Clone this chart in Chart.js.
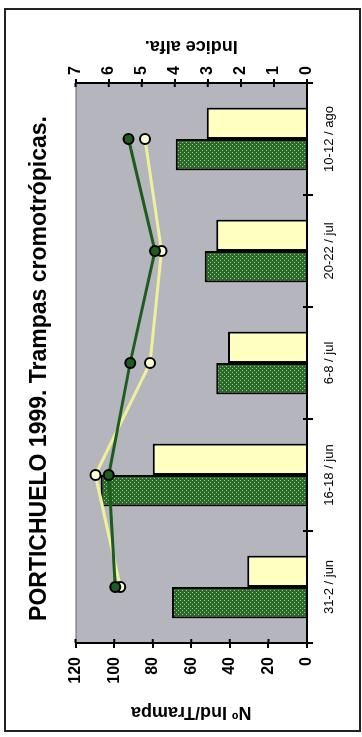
<!DOCTYPE html>
<html lang="es">
<head>
  <meta charset="UTF-8">
  <meta name="viewport" content="width=device-width, initial-scale=1.0">
  <title>Portichuelo 1999</title>
  <style>
    html, body { margin: 0; padding: 0; background: #fff; overflow: hidden; }
    /* el grafico se dibuja horizontal y se gira 90 grados a la izquierda */
    #wrap {
      position: absolute; left: 0; top: 0;
      width: 737px; height: 362px;
      transform-origin: 0 0;
      transform: translate(0, 737px) rotate(-90deg);
    }
  </style>
</head>
<body>
  <div id="wrap"><canvas id="grafico" width="737" height="362"></canvas></div>
  <script src="https://cdn.jsdelivr.net/npm/chart.js"></script>
  <script>
    // Datos
    const categorias = ["31-2 / jun", "16-18 / jun", "6-8 / jul", "20-22 / jul", "10-12 / ago"];
    const indVerde = [70, 107, 47, 53, 68];
    const indAmarilla = [31, 80, 41, 47, 52];
    const alfaVerde = [5.8, 6.0, 5.35, 4.6, 5.4];
    const alfaAmarilla = [5.65, 6.4, 4.75, 4.4, 4.9];
    const maxInd = 120, pasoInd = 20;
    const maxAlfa = 7, pasoAlfa = 1;

    const fuente = '"Liberation Sans", Arial, sans-serif';
    Chart.defaults.font.family = fuente;
    Chart.defaults.color = "#000";

    // trama de puntos para las barras verdes
    function trama() {
      const c = document.createElement("canvas");
      c.width = 4; c.height = 4;
      const g = c.getContext("2d");
      g.fillStyle = "#2c6a2c";
      g.fillRect(0, 0, 4, 4);
      g.fillStyle = "#8fca78";
      g.fillRect(0, 0, 1, 1);
      g.fillRect(2, 2, 1, 1);
      return g.createPattern(c, "repeat");
    }

    const marco = {
      id: "marco",
      beforeDraw(chart) {
        const { ctx, chartArea: a } = chart;
        ctx.save();
        ctx.fillStyle = "#fff";
        ctx.fillRect(0, 0, chart.width, chart.height);
        ctx.strokeStyle = "#222";
        ctx.lineWidth = 2;
        ctx.strokeRect(6, 5, 722, 355);
        ctx.fillStyle = "#b5b5be";
        ctx.fillRect(a.left, a.top, a.right - a.left, a.bottom - a.top);
        ctx.strokeStyle = "#6e6e78";
        ctx.lineWidth = 1;
        ctx.beginPath();
        ctx.moveTo(a.left, a.top + 0.5);
        ctx.lineTo(a.right, a.top + 0.5);
        ctx.stroke();
        ctx.restore();
      },
      afterDraw(chart) {
        const { ctx, chartArea: a, scales } = chart;
        ctx.save();
        // marcas hacia dentro
        ctx.strokeStyle = "#000";
        ctx.lineWidth = 2;
        ctx.beginPath();
        scales.y.ticks.forEach(t => {
          const p = scales.y.getPixelForValue(t.value);
          ctx.moveTo(a.left, p); ctx.lineTo(a.left + 4, p);
        });
        scales.y1.ticks.forEach(t => {
          const p = scales.y1.getPixelForValue(t.value);
          ctx.moveTo(a.right, p); ctx.lineTo(a.right - 4, p);
        });
        for (let i = 0; i <= categorias.length; i++) {
          const p = a.left + i * (a.right - a.left) / categorias.length;
          ctx.moveTo(p, a.bottom); ctx.lineTo(p, a.bottom - 4);
        }
        ctx.stroke();
        // titulo del eje derecho
        ctx.translate(691, (a.top + a.bottom) / 2);
        ctx.rotate(-Math.PI / 2);
        ctx.font = "bold 18px " + fuente;
        ctx.fillStyle = "#000";
        ctx.textAlign = "center";
        ctx.textBaseline = "middle";
        ctx.fillText("Indice alfa.", 0, 0);
        ctx.restore();
      }
    };

    const lineaComun = { type: "line", yAxisID: "y1", order: 0, borderWidth: 3, pointRadius: 5,
      pointBorderColor: "#000", pointBorderWidth: 2, tension: 0 };

    new Chart(document.getElementById("grafico"), {
      type: "bar",
      data: {
        labels: categorias,
        datasets: [
          Object.assign({}, lineaComun, { label: "Alfa verde", data: alfaVerde,
            borderColor: "#1d5c1d", pointBackgroundColor: "#1d5c1d" }),
          Object.assign({}, lineaComun, { label: "Alfa amarilla", data: alfaAmarilla,
            borderColor: "#eff09a", pointBackgroundColor: "#ffffd4" }),
          { label: "Verde", data: indVerde, yAxisID: "y", order: 1,
            backgroundColor: trama(), borderColor: "#000", borderWidth: 2 },
          { label: "Amarilla", data: indAmarilla, yAxisID: "y", order: 1,
            backgroundColor: "#ffffc0", borderColor: "#000", borderWidth: 2 }
        ]
      },
      options: {
        responsive: false,
        animation: false,
        devicePixelRatio: 1,
        categoryPercentage: 0.56,
        barPercentage: 1,
        layout: { padding: 0 },
        plugins: {
          legend: { display: false },
          tooltip: { enabled: false },
          title: {
            display: true,
            text: "PORTICHUELO 1999. Trampas cromotrópicas.",
            font: { size: 23, weight: "bold" },
            color: "#000",
            padding: { top: 26, bottom: 22 }
          }
        },
        scales: {
          x: {
            grid: { offset: true, drawOnChartArea: false, color: "#000", lineWidth: 2, tickLength: 6 },
            border: { color: "#000", width: 2 },
            ticks: { font: { size: 13 }, color: "#000", padding: 9, maxRotation: 0 },
            afterFit: s => { s.height = 55; }
          },
          y: {
            position: "left", min: 0, max: maxInd,
            ticks: { stepSize: pasoInd, font: { size: 16, weight: "bold" }, color: "#000", padding: 9 },
            grid: { drawOnChartArea: false, color: "#000", lineWidth: 2, tickLength: 5 },
            border: { color: "#000", width: 2 },
            title: { display: true, text: "Nº Ind/Trampa", font: { size: 18, weight: "bold" },
              color: "#000", padding: { top: 14, bottom: 0 } },
            afterFit: s => { s.width = 94; }
          },
          y1: {
            position: "right", min: 0, max: maxAlfa,
            ticks: { stepSize: pasoAlfa, font: { size: 16, weight: "bold" }, color: "#000", padding: 4 },
            grid: { drawOnChartArea: false, color: "#000", lineWidth: 2, tickLength: 4 },
            border: { color: "#000", width: 2 },
            afterFit: s => { s.width = 83; }
          }
        }
      },
      plugins: [marco]
    });
  </script>
</body>
</html>
